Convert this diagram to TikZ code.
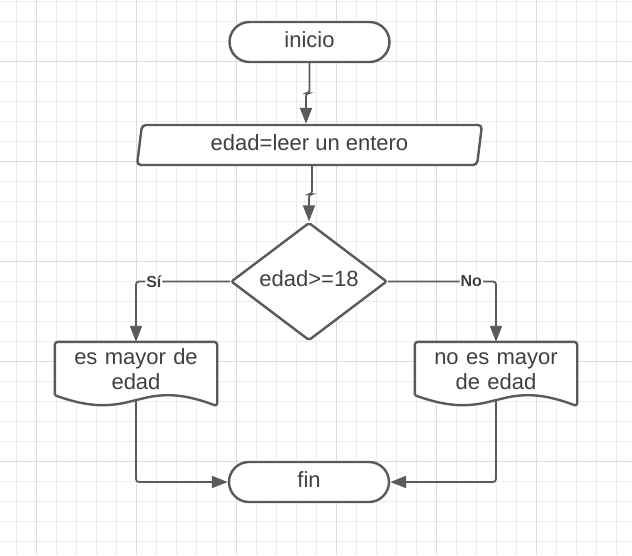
\documentclass[tikz,border=0pt]{standalone}
\usepackage{fontspec}
\setmainfont{Liberation Sans}
\usepackage{tikz}
\usetikzlibrary{arrows.meta,shapes.geometric,positioning,calc,backgrounds}
\definecolor{strokeGray}{RGB}{90,90,90}
\definecolor{textGray}{RGB}{64,64,64}
\definecolor{gridMinor}{RGB}{236,236,236}
\definecolor{gridMajor}{RGB}{220,220,220}
\tikzset{
  caja/.style={
    draw=strokeGray, line width=2.4pt, fill=white, text=textGray, inner sep=0pt,
    text height=15pt, text depth=5pt, font=\fontsize{22}{25}\selectfont
  },
  contorno/.style={draw=strokeGray, line width=2.4pt, fill=white},
  flecha/.style={draw=strokeGray, line width=1.8pt, rounded corners=3pt,
    -{Triangle[length=16pt,width=12pt]}}
}
\begin{document}
\begin{tikzpicture}[x=1pt, y=-1pt,
        terminal/.style={caja, rectangle, rounded corners=20pt,
                         minimum width=160pt, minimum height=40pt},
        entrada/.style={caja, trapezium, trapezium left angle=76, trapezium right angle=104,
                        trapezium stretches body, minimum width=345pt, minimum height=40pt,
                        rounded corners=4pt},
        decision/.style={caja, diamond, aspect=1.32, rounded corners=2pt,
                         minimum width=156pt, minimum height=118pt},
        documento/.style={rectangle, inner sep=0pt, minimum width=162pt, minimum height=53pt,
                          text width=150pt, align=center, text=textGray,
                          font=\fontsize{22}{25}\selectfont, execute at begin node=\strut},
        etiqueta/.style={fill=white, inner sep=1pt, text=textGray,
                         font=\fontsize{16}{18}\selectfont\bfseries}]
  \useasboundingbox (0,0) rectangle (632,555);
  % nodos
  \node[terminal] (inicio) at (309.5,42)  {inicio};
  \node[entrada]  (leer)   at (309.5,145) {edad=leer un entero};
  \node[decision] (edad)   at (309,281.5) {edad>=18};
  \node[documento] (mayor) at (136,368.5) {es mayor de\\edad};
  \node[documento] (menor) at (496,368.5) {no es mayor\\de edad};
  \node[terminal] (fin)    at (309,482)   {fin};
  % conectores
  \draw[flecha] (inicio.south) -- ++(0,30) -| ([xshift=-3.5pt]leer.north);
  \draw[flecha] ([xshift=2.5pt]leer.south) -- ++(0,28) -| (edad.north);
  \draw[flecha] (edad.west) -| node[etiqueta, pos=0.405] {Sí} (mayor.north);
  \draw[flecha] (edad.east) -| node[etiqueta, pos=0.385] {No} (menor.north);
  \draw[flecha] ($(mayor.south)+(0,5)$) |- (fin.west);
  \draw[flecha] ($(menor.south)+(0,5)$) |- (fin.east);
  % fondo: cuadricula y documentos
  \begin{scope}[on background layer]
    \fill[white] (0,0) rectangle (632,555);
    \foreach \i in {0,...,31}
      \draw[gridMinor, line width=1pt] (16.7+20*\i,0) -- (16.7+20*\i,555);
    \foreach \i in {0,...,27}
      \draw[gridMinor, line width=1pt] (0,1.7+20*\i) -- (632,1.7+20*\i);
    \foreach \i in {0,...,5}
      \draw[gridMajor, line width=1pt] (36.7+100*\i,0) -- (36.7+100*\i,555);
    \foreach \i in {0,...,4}
      \draw[gridMajor, line width=1pt] (0,61.7+100*\i) -- (632,61.7+100*\i);
    \foreach \d in {mayor,menor}
      \draw[contorno, rounded corners=3pt] (\d.south west) -- (\d.north west) -- (\d.north east)
        -- ($(\d.south east)+(0,11)$) [sharp corners]
        .. controls ($(\d.south)+(0,-20)$) and ($(\d.south)+(0,30)$) .. (\d.south west);
  \end{scope}
\end{tikzpicture}
\end{document}
